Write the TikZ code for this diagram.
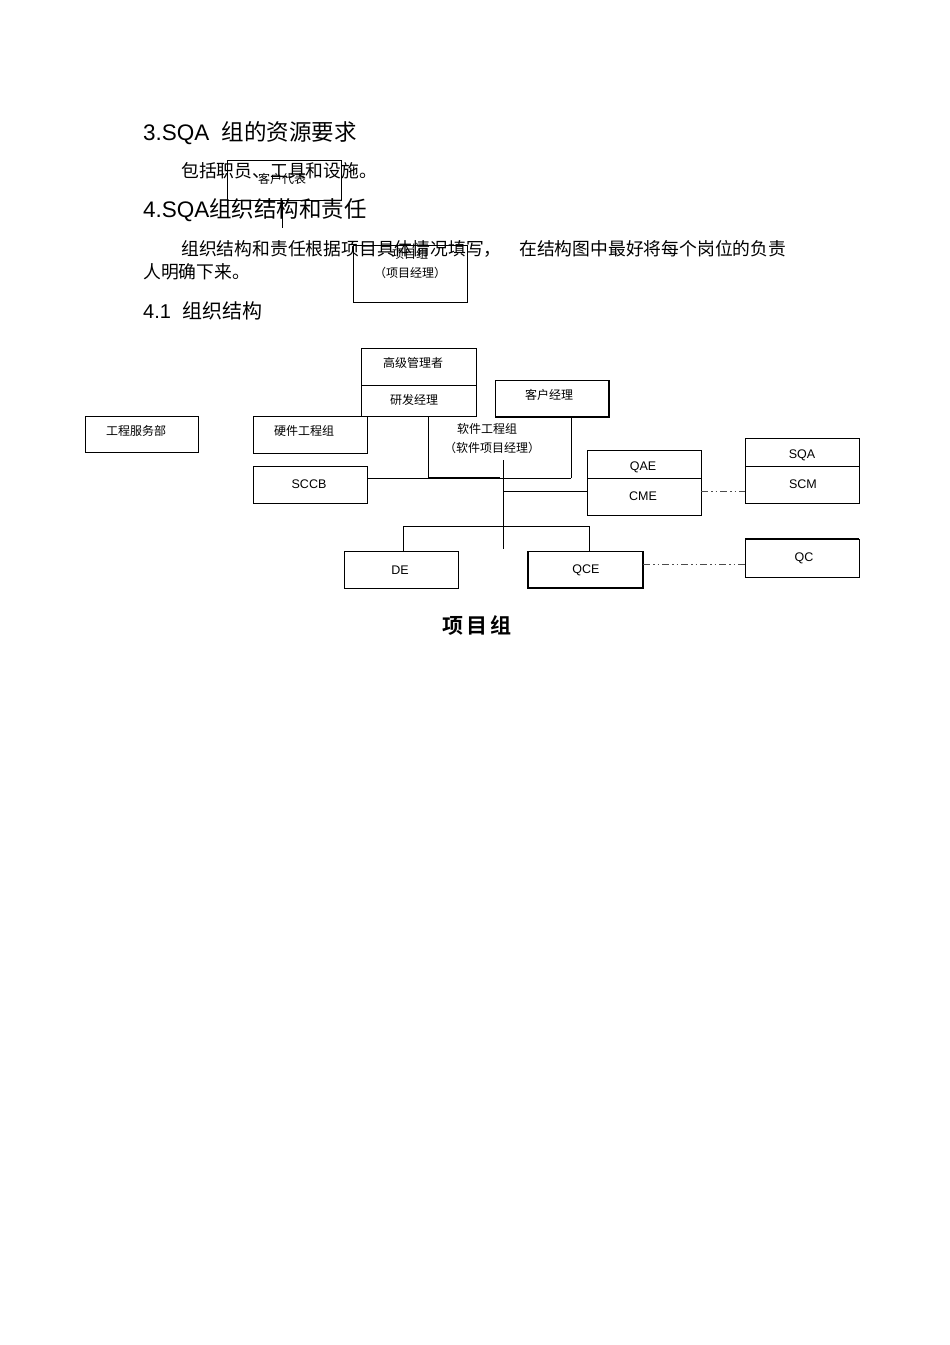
\documentclass[tikz,border=0pt]{standalone}
\usepackage{fontspec}
\setmainfont{Liberation Sans}
\newfontfamily\cjk{Noto Sans CJK SC}
\newfontfamily\cjkb{Noto Sans CJK SC Bold}
\begin{document}
\begin{tikzpicture}[x=1pt,y=-1pt,
  bx/.style={draw,line width=0.7pt},
  lab/.style={font=\cjk\fontsize{12}{14}\selectfont,inner sep=0pt},
  ltn/.style={font=\fontsize{12.5}{14}\selectfont,inner sep=0pt},
  ln/.style={line width=0.7pt},
  dd/.style={line width=0.9pt,black!70,dash pattern=on 7pt off 3pt on 1.5pt off 3pt on 1.5pt off 3pt}]
\useasboundingbox[fill=white] (0,0) rectangle (950,1345);
% text
\node[anchor=west,inner sep=0pt,font=\fontsize{22.5}{26}\selectfont] (h3) at (143,133) {3.SQA\ \ {\cjk 组的资源要求}};
\node[anchor=west,inner sep=0pt,font=\cjk\fontsize{17.8}{20}\selectfont] (p1) at (181,171) {包括职员、工具和设施。};
\node[anchor=west,inner sep=0pt,font=\fontsize{22.5}{26}\selectfont] (h4) at (143,210) {4.SQA{\cjk 组织结构和责任}};
\node[anchor=west,inner sep=0pt,font=\cjk\fontsize{17.8}{20}\selectfont] (p2) at (181,249) {组织结构和责任根据项目具体情况填写，\quad 在结构图中最好将每个岗位的负责};
\node[anchor=west,inner sep=0pt,font=\cjk\fontsize{17.8}{20}\selectfont] (p3) at (143,272) {人明确下来。};
\node[anchor=west,inner sep=0pt,font=\fontsize{20}{22}\selectfont] (h41) at (143,311) {4.1\ \ {\cjk 组织结构}};
% stray boxes
\draw[bx] (227,160) rectangle (341,200);
\node[lab] (kd) at (282,179) {客户代表};
\coordinate (kdb) at (282,200); \coordinate (kdl) at (282,228);
\draw[ln] (kdb) -- (kdl);
\draw[bx] (353,245) rectangle (467,302);
\node[lab] (xm) at (410,254) {项目组};
\node[lab] (xmj) at (410,273) {（项目经理）};
% org chart
\draw[bx] (361,348) rectangle (476,416); \draw[ln] (361,385) -- (476,385);
\node[lab] (gj) at (413,363) {高级管理者};
\node[lab] (yf) at (414,400) {研发经理};
\draw[bx] (495,380) rectangle (609,417); \draw[line width=1.4pt] (495,417)--(609,417)--(609,380);
\node[lab] (kh) at (549,395) {客户经理};
\draw[bx] (85,416) rectangle (198,452);
\node[lab] (gc) at (136,431) {工程服务部};
\draw[bx] (253,416) rectangle (367,453);
\node[lab] (yj) at (304,431) {硬件工程组};
\draw[ln] (428,416) -- (428,478); \draw[line width=1.3pt] (428,478) -- (500,478);
\draw[ln] (571,417) -- (571,478);
\node[lab] (rj) at (487,429) {软件工程组};
\node[lab] (rjj) at (492,448) {（软件项目经理）};
\draw[bx] (253,466) rectangle (367,503);
\node[ltn] (sccb) at (309,484) {SCCB};
\draw[ln] (367,478) -- (571,478);
\draw[bx] (587,450) rectangle (701,515); \draw[ln] (587,478) -- (701,478);
\node[ltn] (qae) at (643,467) {QAE};
\node[ltn] (cme) at (643,496) {CME};
\draw[bx] (745,438) rectangle (859,503); \draw[ln] (745,466) -- (859,466);
\node[ltn] (sqa) at (802,455) {SQA};
\node[ltn] (scm) at (803,484) {SCM};
\draw[ln] (503,460) -- (503,549);
\draw[ln] (503,491) -- (587,491);
\draw[dd] (701,491) -- (745,491);
\draw[ln] (403,551) -- (403,526) -- (589,526) -- (589,551);
\draw[bx] (344,551) rectangle (458,588);
\node[ltn] (de) at (400,570) {DE};
\draw[bx] (528,551) rectangle (643,588); \draw[line width=1.4pt] (528,551)--(528,588)--(643,588)--(643,551);
\node[ltn] (qce) at (586,570) {QCE};
\draw[bx] (745,539) rectangle (859,577); \draw[line width=1.4pt] (745,539)--(859,539);
\node[ltn] (qc) at (804,558) {QC};
\draw[dd] (643,564) -- (745,564);
\node[inner sep=0pt,font=\cjkb\fontsize{21}{24}\selectfont] (cap) at (477,625) {项\,目\,组};
\end{tikzpicture}
\end{document}
